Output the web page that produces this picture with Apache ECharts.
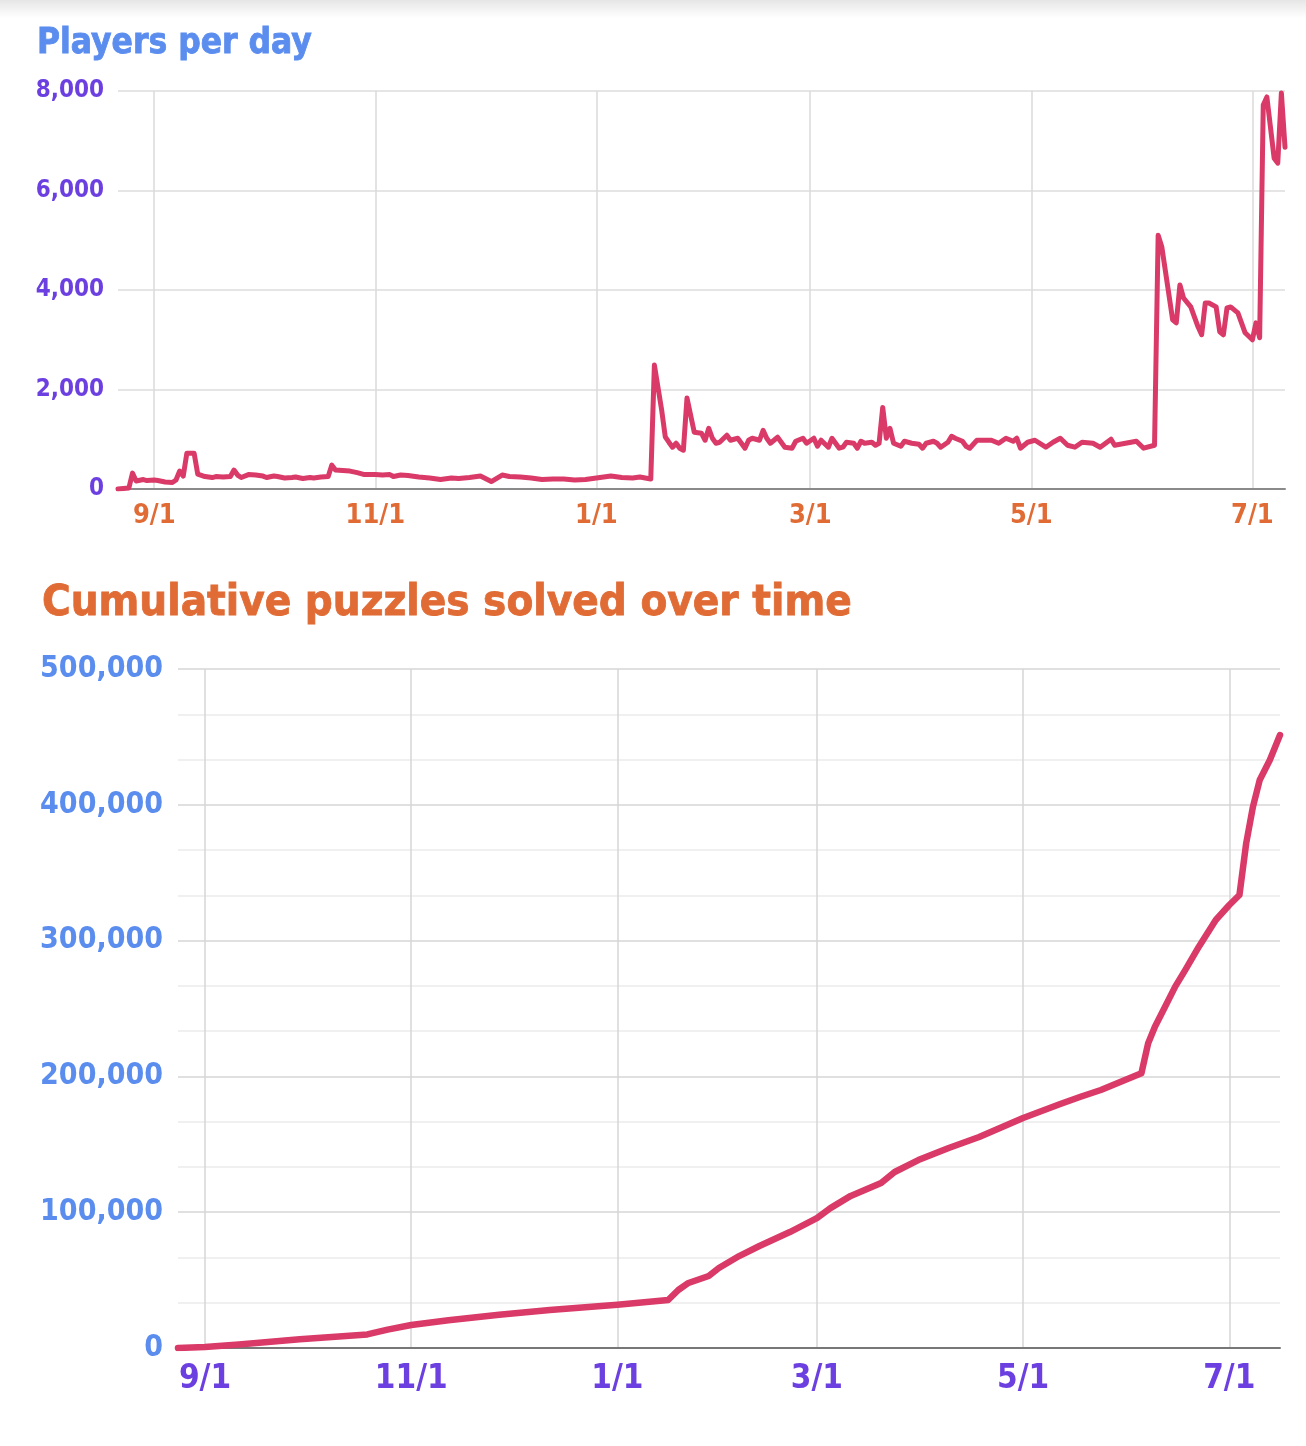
<!DOCTYPE html>
<html>
<head>
<meta charset="utf-8">
<script src="https://cdn.jsdelivr.net/npm/echarts@6/dist/echarts.min.js"></script>
<style>
  html, body { margin: 0; padding: 0; background: #fff; }
  #chart { width: 1306px; height: 1446px; }
</style>
</head>
<body>
<div id="chart"></div>
<script>
// ---- Players per day ----
const playerDates = [
  '2021-08-22','2021-08-25','2021-08-26','2021-08-27','2021-08-29','2021-08-30',
  '2021-09-01','2021-09-02','2021-09-04','2021-09-06','2021-09-07','2021-09-08','2021-09-09','2021-09-10','2021-09-12','2021-09-13','2021-09-15','2021-09-17','2021-09-18','2021-09-20','2021-09-22','2021-09-23','2021-09-24','2021-09-25','2021-09-27','2021-09-29',
  '2021-10-01','2021-10-02','2021-10-04','2021-10-05','2021-10-07','2021-10-09','2021-10-10','2021-10-12','2021-10-14','2021-10-15','2021-10-17','2021-10-19','2021-10-20','2021-10-21','2021-10-23','2021-10-25','2021-10-27','2021-10-29',
  '2021-11-01','2021-11-03','2021-11-05','2021-11-06','2021-11-08','2021-11-10','2021-11-12','2021-11-13','2021-11-16','2021-11-19','2021-11-22','2021-11-24','2021-11-27','2021-11-30',
  '2021-12-03','2021-12-06','2021-12-08','2021-12-11','2021-12-14','2021-12-17','2021-12-20','2021-12-23','2021-12-26','2021-12-29',
  '2022-01-01','2022-01-03','2022-01-05','2022-01-08','2022-01-11','2022-01-13','2022-01-16','2022-01-17','2022-01-19','2022-01-20','2022-01-21','2022-01-22','2022-01-23','2022-01-24','2022-01-25','2022-01-26','2022-01-28','2022-01-30','2022-01-31',
  '2022-02-01','2022-02-02','2022-02-03','2022-02-04','2022-02-06','2022-02-07','2022-02-09','2022-02-10','2022-02-11','2022-02-12','2022-02-13','2022-02-15','2022-02-16','2022-02-17','2022-02-18','2022-02-20','2022-02-21','2022-02-22','2022-02-24','2022-02-25','2022-02-27','2022-02-28',
  '2022-03-02','2022-03-03','2022-03-04','2022-03-06','2022-03-07','2022-03-09','2022-03-10','2022-03-11','2022-03-13','2022-03-14','2022-03-15','2022-03-16','2022-03-18','2022-03-19','2022-03-20','2022-03-21','2022-03-22','2022-03-23','2022-03-24','2022-03-26','2022-03-27','2022-03-29','2022-03-31',
  '2022-04-01','2022-04-02','2022-04-04','2022-04-05','2022-04-06','2022-04-08','2022-04-09','2022-04-10','2022-04-12','2022-04-13','2022-04-14','2022-04-16','2022-04-20','2022-04-22','2022-04-24','2022-04-26','2022-04-27','2022-04-28','2022-04-30',
  '2022-05-02','2022-05-05','2022-05-07','2022-05-09','2022-05-11','2022-05-13','2022-05-15','2022-05-18','2022-05-20','2022-05-23','2022-05-24','2022-05-27','2022-05-30',
  '2022-06-01','2022-06-04','2022-06-05','2022-06-06','2022-06-09','2022-06-10','2022-06-11','2022-06-12','2022-06-14','2022-06-16','2022-06-17','2022-06-18','2022-06-19','2022-06-21','2022-06-22','2022-06-23','2022-06-24','2022-06-25','2022-06-27','2022-06-29',
  '2022-07-01','2022-07-02','2022-07-03','2022-07-04','2022-07-05','2022-07-07','2022-07-08','2022-07-09','2022-07-10'
];
const playerCounts = [
  0,20,320,160,190,170,
  180,170,140,130,180,360,260,720,720,300,250,230,250,240,250,380,280,230,290,280,
  260,230,260,250,220,230,240,210,230,220,240,250,480,380,370,360,330,290,
  290,280,290,250,280,270,250,240,220,190,220,210,230,260,
  150,280,250,240,220,190,200,200,180,190,
  220,240,260,230,220,240,200,2490,1590,1050,940,840,920,820,780,1830,1140,1120,980,
  1220,1020,920,940,1080,980,1020,920,820,980,1020,980,1180,1020,920,1040,940,840,820,960,1020,920,
  1020,860,980,840,1020,820,840,940,920,820,960,920,940,880,920,1640,1020,1220,920,860,960,920,900,
  820,920,960,920,840,940,1060,1020,960,860,820,980,980,920,1020,960,1020,820,940,
  980,840,940,1020,880,840,940,920,840,1000,880,920,960,
  820,880,5100,4870,3400,3340,4100,3840,3660,3260,3100,3740,3740,3660,3160,3100,3640,3660,3540,3140,
  3000,3340,3040,7720,7880,6650,6550,7960,6870
];

// ---- Cumulative puzzles solved ----
const cumDates = [
  '2021-08-24','2021-09-01','2021-09-11','2021-09-29','2021-10-19','2021-10-25','2021-11-01','2021-11-12','2021-11-27','2021-12-12',
  '2022-01-01','2022-01-16','2022-01-19','2022-01-22','2022-01-28','2022-01-31','2022-02-06','2022-02-12','2022-02-21',
  '2022-03-01','2022-03-05','2022-03-11','2022-03-20','2022-03-24','2022-03-31','2022-04-09','2022-04-18',
  '2022-05-01','2022-05-12','2022-05-18','2022-05-24','2022-06-05','2022-06-07','2022-06-09','2022-06-12','2022-06-15','2022-06-18','2022-06-22','2022-06-27',
  '2022-07-01','2022-07-04','2022-07-06','2022-07-08','2022-07-10','2022-07-13','2022-07-16'
];
const cumTotals = [
  0,800,2500,6500,10000,13500,16900,20500,24500,28000,
  31800,35300,42700,47900,53000,58900,67700,75100,85400,
  95700,103000,112000,121500,129600,138400,147300,155400,
  169400,179700,185000,190000,202300,224400,236600,251300,266100,278400,295500,315200,
  326200,333600,371700,398600,418300,433000,451400
];

// ---- Axis ticks ----
const monthTicks = ['2021-09-01','2021-11-01','2022-01-01','2022-03-01','2022-05-01','2022-07-01'];
const topRange = ['2021-08-22','2022-07-10'];
const bottomRange = ['2021-08-24','2022-07-16'];

const ts = s => { const p = s.split('-').map(Number); return new Date(p[0], p[1] - 1, p[2]).getTime(); };
const mdFmt = v => { const d = new Date(v); return (d.getMonth() + 1) + '/' + d.getDate(); };
const commaFmt = v => Number(v).toLocaleString('en-US');

const FONT = "'DejaVu Sans Condensed', 'DejaVu Sans', sans-serif";
const LINE = '#D93A68';
const BLUE = '#5B8DEF';
const PURPLE = '#6B3FE0';
const ORANGE = '#E06B35';
const tickVals = monthTicks.map(ts);

const chart = echarts.init(document.getElementById('chart'), null, { renderer: 'canvas' });
chart.setOption({
  animation: false,
  backgroundColor: '#fff',
  graphic: [{
    type: 'rect', left: 0, top: 0, shape: { width: 1306, height: 18 },
    style: { fill: new echarts.graphic.LinearGradient(0, 0, 0, 1, [
      { offset: 0, color: '#e6e6e6' }, { offset: 1, color: '#ffffff' }]) },
    silent: true
  }],
  title: [
    { text: 'Players per day', left: 37, top: 26, padding: 0,
      textStyle: { fontFamily: FONT, fontWeight: 'bold', fontSize: 35, color: BLUE,
        textBorderColor: BLUE, textBorderWidth: 0.8 } },
    { text: 'Cumulative puzzles solved over time', left: 42, top: 582, padding: 0,
      textStyle: { fontFamily: FONT, fontWeight: 'bold', fontSize: 43.5, color: ORANGE,
        textBorderColor: ORANGE, textBorderWidth: 0.8 } }
  ],
  grid: [
    { left: 118, right: 21, top: 91, height: 398 },
    { left: 178, right: 26, top: 669, height: 679 }
  ],
  xAxis: [
    { type: 'value', gridIndex: 0, min: ts(topRange[0]), max: ts(topRange[1]),
      axisLine: { lineStyle: { color: '#8a8a8a', width: 2 } },
      axisTick: { show: false, customValues: tickVals },
      axisLabel: { customValues: tickVals, formatter: mdFmt, color: ORANGE, fontFamily: FONT,
        fontWeight: 'bold', fontSize: 27, margin: 13 },
      splitLine: { show: true, lineStyle: { color: '#dadada', width: 1.5 } } },
    { type: 'value', gridIndex: 1, min: ts(bottomRange[0]), max: ts(bottomRange[1]),
      axisLine: { lineStyle: { color: '#777', width: 2 } },
      axisTick: { show: false, customValues: tickVals },
      axisLabel: { customValues: tickVals, formatter: mdFmt, color: PURPLE, fontFamily: FONT,
        fontWeight: 'bold', fontSize: 33, margin: 15 },
      splitLine: { show: true, lineStyle: { color: '#d6d6d6', width: 1.5 } } }
  ],
  yAxis: [
    { type: 'value', gridIndex: 0, min: 0, max: 8000, interval: 2000,
      axisLine: { show: false }, axisTick: { show: false },
      axisLabel: { formatter: commaFmt, color: PURPLE, fontFamily: FONT, fontWeight: 'bold',
        fontSize: 24, margin: 14 },
      splitLine: { lineStyle: { color: '#dcdcdc', width: 1.5 } } },
    { type: 'value', gridIndex: 1, min: 0, max: 500000, interval: 100000,
      axisLine: { show: false }, axisTick: { show: false },
      minorTick: { show: false, splitNumber: 3 },
      minorSplitLine: { show: true, lineStyle: { color: '#ececec', width: 1.5 } },
      axisLabel: { formatter: commaFmt, color: BLUE, fontFamily: FONT, fontWeight: 'bold',
        fontSize: 30, margin: 15 },
      splitLine: { lineStyle: { color: '#d6d6d6', width: 1.5 } } }
  ],
  series: [
    { type: 'line', xAxisIndex: 0, yAxisIndex: 0, showSymbol: false, z: 5,
      data: playerDates.map((d, i) => [ts(d), playerCounts[i]]),
      lineStyle: { color: LINE, width: 5, join: 'round', cap: 'round' } },
    { type: 'line', xAxisIndex: 1, yAxisIndex: 1, showSymbol: false, z: 5,
      data: cumDates.map((d, i) => [ts(d), cumTotals[i]]),
      lineStyle: { color: LINE, width: 6.5, join: 'round', cap: 'round' } }
  ]
});
</script>
</body>
</html>
